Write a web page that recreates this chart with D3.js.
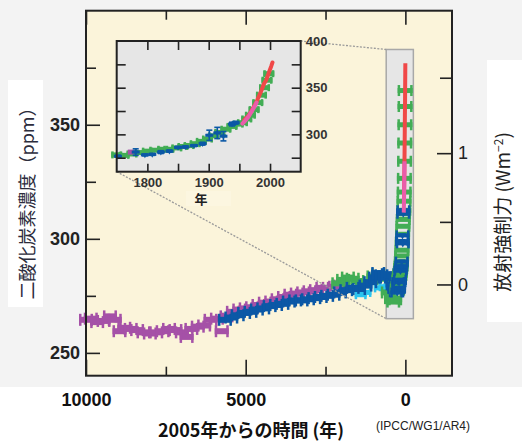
<!DOCTYPE html>
<html>
<head>
<meta charset="utf-8">
<script src="https://cdn.jsdelivr.net/npm/d3@7"></script>
<style>
  body { margin: 0; background: #fff; }
  text { font-family: "Liberation Sans", Arial, sans-serif; }
  .jp { font-family: "Noto Sans CJK JP", "Liberation Sans", sans-serif; }
</style>
</head>
<body>
<script>
// main chart: age in years before 2005, CO2 in ppm
const purpleAge = [10000, 9850, 9650, 9450, 9250, 9100, 8950, 8800, 8600, 8400, 8200, 8000, 7800, 7600, 7400, 7200, 7000, 6850, 6700, 6500, 6300, 6100, 5900, 5750, 5600, 5400, 5200, 5000, 4800, 4600, 4400, 4200, 4000, 3800, 3600, 3400, 3200, 3000, 2800, 2600, 2400, 2200, 2050];
const purpleCo2 = [264.5, 265, 263.5, 264, 266, 264.5, 259.5, 261, 260.5, 260, 259, 258.5, 259, 259.5, 260.5, 260, 259, 257, 260.5, 261.5, 262, 264.5, 265, 259.5, 266, 268, 269, 269.5, 270, 271, 272, 272.5, 273.5, 274.5, 275.5, 276, 276.5, 277, 277.5, 278.5, 278.5, 279, 279.5];

const blueAge = [5650, 5450, 5250, 5050, 4850, 4650, 4450, 4250, 4050, 3850, 3650, 3450, 3250, 3050, 2850, 2650, 2450, 2250, 2050, 1850, 1650, 1450, 1250, 1100, 950, 850, 750, 650, 550, 450, 400, 350, 300, 280];
const blueCo2 = [264.5, 265.5, 266.5, 267.5, 268, 269, 269.5, 270.5, 271, 271.5, 272.5, 273, 273, 273.5, 274, 274.5, 275, 275.5, 276.5, 277.5, 278.5, 278, 279.5, 281, 283, 285, 284, 283, 284.5, 283, 280, 278.5, 277, 279];

const greenAge = [2100, 1950, 1800, 1650, 1500, 1350, 1000, 850, 700, 550, 450, 380, 320];
const greenCo2 = [280.5, 282, 283, 282.5, 281.5, 281, 283.5, 284.5, 282.5, 276.5, 274, 272.5, 273.5];

const cyanAge = [1400, 1250, 800, 650, 420];
const cyanCo2 = [275.5, 276.5, 278.5, 279, 276.5];

// inset (and recent column of main chart): calendar year, CO2 in ppm
const iceYear = [1750, 1762, 1775, 1788, 1800, 1812, 1825, 1835, 1848, 1858, 1868, 1878, 1888, 1898, 1908, 1918, 1928, 1938, 1948, 1955, 1962, 1968, 1974, 1980, 1986, 1991, 1995, 1998];
const iceCo2 = [278, 277.5, 279, 280.5, 282, 283, 284, 284, 285.5, 287, 288, 290, 292.5, 295, 298.5, 302, 305.5, 308.5, 311, 312.5, 316.5, 320.5, 326.5, 334, 342, 350, 358, 365];

const firnYear = [1752, 1781, 1796, 1808, 1822, 1836, 1850, 1862, 1876, 1890, 1901, 1914, 1924, 1938, 1944];
const firnCo2 = [276.5, 281, 278, 278.5, 281, 282, 286, 286.5, 288, 290, 299, 301.5, 298, 311, 312.5];
const firnErr = [1, 3.5, 1, 1, 1.5, 1, 1, 1, 1, 1.5, 5.5, 6, 5, 2, 1.5];

const mloYear = [1958, 1962, 1966, 1970, 1974, 1978, 1982, 1986, 1990, 1994, 1998, 2002, 2004];
const mloCo2 = [315.5, 318, 321, 325.5, 330, 335, 341, 347, 354, 358.5, 366, 373, 377];

const pinkYear = [1955, 1960, 1965, 1970, 1975, 1978];
const pinkCo2 = [311.5, 315, 319, 324.5, 330, 334];

// axes
const ageMajor = [10000, 5000, 0];
const ageMinor = [7500, 2500];
const co2Major = [250, 300, 350];
const co2Minor = [275, 325, 375];
const rfMajor = [0, 1];
const rfMinor = [0.5, 1.5];
const insetYearTicks = [1800, 1850, 1900, 1950, 2000];
const insetYearLabels = [1800, 1900, 2000];
const insetCo2Ticks = [275, 300, 325, 350, 375];
const insetCo2Labels = [300, 350, 400];

const C0 = 280;
const col = {
  purple: "#a551a7", blue: "#0b58a6", green: "#42ad55", cyan: "#2bc4ee",
  red: "#f04848", pink: "#ea5cab"
};

function renderChart() {
  let w = 522, h = 445;
  let svg = d3.select("body").append("svg")
    .attr("width", w)
    .attr("height", h);

  svg.append("rect").attr("width", w).attr("height", h).attr("fill", "#fff");
  svg.append("rect").attr("width", w).attr("height", 387).attr("fill", "#f3f3f3");
  svg.append("rect").attr("x", 8).attr("y", 80).attr("width", 35).attr("height", 227).attr("fill", "#fff");
  svg.append("rect").attr("x", 487).attr("y", 60).attr("width", 35).attr("height", 262).attr("fill", "#fff");

  let m = { left: 86, right: 452, top: 10.7, bottom: 375.7 };
  let x = d3.scaleLinear().domain([10000, -1460]).range([m.left, m.right]);
  let y = d3.scaleLinear().domain([240, 400]).range([m.bottom, m.top]);

  svg.append("rect")
    .attr("x", m.left).attr("y", m.top)
    .attr("width", m.right - m.left).attr("height", m.bottom - m.top)
    .attr("fill", "#fbf4da");

  // highlighted region of the last 250 years
  svg.append("rect")
    .attr("x", x(600)).attr("y", y(383))
    .attr("width", x(-250) - x(600)).attr("height", y(265) - y(383))
    .attr("fill", "#e6e6e6").attr("stroke", "#a8a8a8").attr("stroke-width", 1.5);

  let data = svg.append("g");
  hBars(data, d3.zip(purpleAge, purpleCo2), col.purple, x, y, 14, 6, 12);
  hBars(data, d3.zip(cyanAge, cyanCo2), col.cyan, x, y, 12, 5, 9);
  hBars(data, d3.zip(greenAge, greenCo2), col.green, x, y, 14, 6, 12);
  hBars(data, d3.zip(blueAge, blueCo2), col.blue, x, y, 14, 6, 12);

  let age = yr => 2005 - yr;
  hBars(data, d3.zip(iceYear.map(age), iceCo2), col.green, x, y, 15, 5, 11);
  let fb = hBars(data, d3.zip(firnYear.map(age), firnCo2), col.blue, x, y, 14, 4, 10);
  fb.append("path")
    .attr("d", d3.symbol().type(d3.symbolTriangle).size(22))
    .attr("transform", "rotate(180)");

  let line = d3.line().x(d => x(d[0])).y(d => y(d[1]));
  data.append("path").datum(d3.zip(mloYear.map(age), mloCo2))
    .attr("d", line).attr("fill", "none")
    .attr("stroke", col.red).attr("stroke-width", 4);
  data.append("path").datum(d3.zip(pinkYear.map(age), pinkCo2))
    .attr("d", line).attr("fill", "none")
    .attr("stroke", col.pink).attr("stroke-width", 4);

  // inset
  let ins = { left: 116.7, right: 300.7, top: 41, bottom: 171.7 };
  let xi = d3.scaleLinear().domain([1750, 2050]).range([ins.left, ins.right]);
  let yi = d3.scaleLinear().domain([260, 400]).range([ins.bottom, ins.top]);

  svg.append("line")
    .attr("x1", ins.right).attr("y1", ins.top)
    .attr("x2", x(600)).attr("y2", y(383))
    .attr("stroke", "#9a9a9a").attr("stroke-width", 1.3).attr("stroke-dasharray", "2,1.5");
  svg.append("line")
    .attr("x1", ins.left).attr("y1", ins.bottom)
    .attr("x2", x(600)).attr("y2", y(265))
    .attr("stroke", "#9a9a9a").attr("stroke-width", 1.3).attr("stroke-dasharray", "2,1.5");

  svg.append("rect")
    .attr("x", ins.left).attr("y", ins.top)
    .attr("width", ins.right - ins.left).attr("height", ins.bottom - ins.top)
    .attr("fill", "#e6e6e6");

  let ig = svg.append("g");
  hBars(ig, d3.zip(iceYear, iceCo2), col.green, xi, yi, 11, 5, 7);
  ig.append("rect")
    .attr("x", xi(1773) - 3).attr("y", yi(281) - 2.5)
    .attr("width", 6).attr("height", 5).attr("fill", col.purple);

  let fi = ig.append("g").attr("stroke", col.blue).attr("fill", col.blue)
    .selectAll("g")
    .data(d3.zip(firnYear, firnCo2, firnErr))
    .enter().append("g")
    .attr("transform", function (d) {
      return "translate(" + xi(d[0]) + ",0)";
    });
  fi.append("line")
    .attr("y1", d => yi(d[1] - d[2])).attr("y2", d => yi(d[1] + d[2]))
    .attr("stroke-width", 1.6);
  fi.append("line")
    .attr("x1", -3).attr("x2", 3)
    .attr("y1", d => yi(d[1] - d[2])).attr("y2", d => yi(d[1] - d[2]))
    .attr("stroke-width", 1.6);
  fi.append("line")
    .attr("x1", -3).attr("x2", 3)
    .attr("y1", d => yi(d[1] + d[2])).attr("y2", d => yi(d[1] + d[2]))
    .attr("stroke-width", 1.6);
  fi.append("rect")
    .attr("x", -4).attr("y", d => yi(d[1]) - 1.5)
    .attr("width", 8).attr("height", 3).attr("stroke", "none");
  fi.append("path")
    .attr("d", d3.symbol().type(d3.symbolTriangle).size(14))
    .attr("transform", d => "translate(0," + yi(d[1]) + ") rotate(180)")
    .attr("stroke", "none");

  let iline = d3.line().x(d => xi(d[0])).y(d => yi(d[1]));
  ig.append("path").datum(d3.zip(mloYear, mloCo2))
    .attr("d", iline).attr("fill", "none")
    .attr("stroke", col.red).attr("stroke-width", 4).attr("stroke-linecap", "round");
  ig.append("path").datum(d3.zip(pinkYear, pinkCo2))
    .attr("d", iline).attr("fill", "none")
    .attr("stroke", col.pink).attr("stroke-width", 4).attr("stroke-linecap", "round");

  // inset ticks
  let tickStyle = g => {
    g.select(".domain").remove();
    g.selectAll("line").attr("stroke", "#222").attr("stroke-width", 1.6);
  };
  svg.append("g").attr("transform", "translate(0," + ins.top + ")")
    .call(d3.axisTop(xi).tickValues(insetYearTicks).tickSize(-9).tickFormat(""))
    .call(tickStyle);
  svg.append("g").attr("transform", "translate(0," + ins.bottom + ")")
    .call(d3.axisBottom(xi).tickValues(insetYearTicks).tickSize(-8).tickFormat(""))
    .call(tickStyle);
  svg.append("g").attr("transform", "translate(0," + ins.bottom + ")")
    .call(d3.axisBottom(xi).tickValues(insetYearLabels).tickSize(0).tickPadding(6).tickFormat(d3.format("d")))
    .call(tickStyle)
    .selectAll("text")
    .attr("font-size", 13).attr("font-weight", "bold").attr("fill", "#333")
    .attr("font-family", "Liberation Sans, Arial, sans-serif");
  svg.append("g").attr("transform", "translate(" + ins.left + ",0)")
    .call(d3.axisLeft(yi).tickValues(insetCo2Ticks).tickSize(-9).tickFormat(""))
    .call(tickStyle);
  svg.append("g").attr("transform", "translate(" + ins.right + ",0)")
    .call(d3.axisRight(yi).tickValues(insetCo2Ticks).tickSize(-9).tickFormat(""))
    .call(tickStyle);
  svg.append("g").attr("transform", "translate(" + ins.right + ",0)")
    .call(d3.axisRight(yi).tickValues(insetCo2Labels).tickSize(0).tickPadding(5))
    .call(tickStyle)
    .selectAll("text")
    .attr("font-size", 13).attr("font-weight", "bold").attr("fill", "#333")
    .attr("font-family", "Liberation Sans, Arial, sans-serif");

  svg.append("rect")
    .attr("x", ins.left).attr("y", ins.top)
    .attr("width", ins.right - ins.left).attr("height", ins.bottom - ins.top)
    .attr("fill", "none").attr("stroke", "#222").attr("stroke-width", 2);

  svg.append("rect")
    .attr("x", 186).attr("y", 191).attr("width", 45).attr("height", 15)
    .attr("fill", "#fcf6e0");
  svg.append("text").attr("class", "jp")
    .attr("x", 201).attr("y", 204)
    .attr("text-anchor", "middle")
    .attr("font-size", 13).attr("font-weight", "bold").attr("fill", "#222")
    .text("年");

  // main axes
  svg.append("g").attr("transform", "translate(0," + m.top + ")")
    .call(d3.axisTop(x).tickValues(ageMajor).tickSize(-14).tickFormat(""))
    .call(tickStyle);
  svg.append("g").attr("transform", "translate(0," + m.top + ")")
    .call(d3.axisTop(x).tickValues(ageMinor).tickSize(-9).tickFormat(""))
    .call(tickStyle);
  svg.append("g").attr("transform", "translate(0," + m.bottom + ")")
    .call(d3.axisBottom(x).tickValues(ageMajor).tickSize(-16).tickPadding(18).tickFormat(d3.format("d")))
    .call(tickStyle)
    .selectAll("text")
    .attr("font-size", 18).attr("font-weight", "bold").attr("fill", "#111")
    .attr("font-family", "Liberation Sans, Arial, sans-serif");
  svg.append("g").attr("transform", "translate(0," + m.bottom + ")")
    .call(d3.axisBottom(x).tickValues(ageMinor).tickSize(-9).tickFormat(""))
    .call(tickStyle);

  svg.append("g").attr("transform", "translate(" + m.left + ",0)")
    .call(d3.axisLeft(y).tickValues(co2Major).tickSize(-14).tickPadding(6))
    .call(tickStyle)
    .selectAll("text")
    .attr("font-size", 18).attr("font-weight", "bold").attr("fill", "#222")
    .attr("font-family", "Liberation Sans, Arial, sans-serif");
  svg.append("g").attr("transform", "translate(" + m.left + ",0)")
    .call(d3.axisLeft(y).tickValues(co2Minor).tickSize(-10).tickFormat(""))
    .call(tickStyle);

  // radiative forcing axis, F = 5.35 ln(C / C0)
  let toPpm = f => C0 * Math.exp(f / 5.35);
  svg.append("g").attr("transform", "translate(" + m.right + ",0)")
    .call(d3.axisRight(y).tickValues(rfMajor.map(toPpm)).tickSize(-15).tickPadding(6)
      .tickFormat(d => Math.round(5.35 * Math.log(d / C0))))
    .call(tickStyle)
    .selectAll("text")
    .attr("font-size", 18).attr("fill", "#222")
    .attr("font-family", "Liberation Sans, Arial, sans-serif");
  svg.append("g").attr("transform", "translate(" + m.right + ",0)")
    .call(d3.axisRight(y).tickValues(rfMinor.map(toPpm)).tickSize(-12).tickFormat(""))
    .call(tickStyle);

  svg.append("rect")
    .attr("x", m.left).attr("y", m.top)
    .attr("width", m.right - m.left).attr("height", m.bottom - m.top)
    .attr("fill", "none").attr("stroke", "#222").attr("stroke-width", 2);

  // titles
  svg.append("text").attr("class", "jp")
    .attr("transform", "translate(34,199) rotate(-90)")
    .attr("text-anchor", "middle")
    .attr("font-size", 18).attr("fill", "#2c2c3c")
    .text("二酸化炭素濃度（ppm）");

  let rt = svg.append("text").attr("class", "jp")
    .attr("transform", "translate(510,212) rotate(-90)")
    .attr("text-anchor", "middle")
    .attr("font-size", 19).attr("fill", "#222");
  rt.append("tspan").text("放射強制力 (Wm");
  rt.append("tspan").attr("dy", -7).attr("font-size", 12).text("−2");
  rt.append("tspan").attr("dy", 7).text(")");

  svg.append("text").attr("class", "jp")
    .attr("x", 251).attr("y", 437)
    .attr("text-anchor", "middle")
    .attr("font-size", 18).attr("font-weight", "bold").attr("fill", "#111")
    .text("2005年からの時間 (年)");

  svg.append("text")
    .attr("x", 423).attr("y", 430)
    .attr("text-anchor", "middle")
    .attr("font-size", 12).attr("fill", "#222")
    .text("(IPCC/WG1/AR4)");
}

function hBars(g, pts, color, x, y, w, bh, ch) {
  let s = g.append("g").attr("fill", color)
    .selectAll("g")
    .data(pts)
    .enter().append("g")
    .attr("transform", function (d) {
      return "translate(" + x(d[0]) + "," + y(d[1]) + ")";
    });
  s.append("rect").attr("x", -w / 2).attr("y", -bh / 2).attr("width", w).attr("height", bh);
  s.append("rect").attr("x", -w / 2).attr("y", -ch / 2).attr("width", 2.5).attr("height", ch);
  s.append("rect").attr("x", w / 2 - 2.5).attr("y", -ch / 2).attr("width", 2.5).attr("height", ch);
  return s;
}

renderChart();
</script>
</body>
</html>
